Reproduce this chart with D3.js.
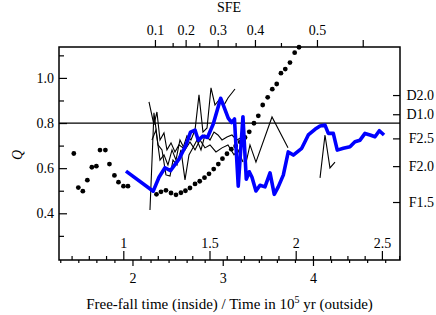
<!DOCTYPE html>
<html>
<head>
<meta charset="utf-8">
<script src="https://cdn.jsdelivr.net/npm/d3@7"></script>
<style>
  body { margin: 0; background: #fff; }
  svg text { font-family: "Liberation Serif", "Times New Roman", "DejaVu Serif", serif; font-size: 14px; fill: #000; }
</style>
</head>
<body>
<svg id="chart" width="436" height="315"></svg>
<script>
// dotted series (time in 1e5 yr, Q)
const dotTime = [1.35, 1.40, 1.45, 1.50, 1.55, 1.60, 1.64, 1.70, 1.745, 1.80, 1.845, 1.90, 1.95,
  2.266, 2.316, 2.371, 2.427, 2.482, 2.537, 2.587, 2.637, 2.693, 2.745, 2.798, 2.848, 2.900, 2.951,
  2.997, 3.047, 3.095, 3.143, 3.194, 3.247, 3.294, 3.346, 3.394, 3.443, 3.498, 3.549, 3.598, 3.645,
  3.693, 3.745, 3.797, 3.845];
const dotQ = [0.665, 0.514, 0.498, 0.547, 0.604, 0.609, 0.680, 0.680, 0.618, 0.568, 0.538, 0.520, 0.520,
  0.484, 0.495, 0.502, 0.490, 0.482, 0.491, 0.500, 0.512, 0.530, 0.542, 0.558, 0.575, 0.596, 0.618,
  0.642, 0.664, 0.684, 0.698, 0.716, 0.736, 0.761, 0.799, 0.832, 0.880, 0.914, 0.950, 0.973, 1.021,
  1.039, 1.068, 1.112, 1.136];

// blue series
const blueTime = [1.928, 2.230, 2.294, 2.360, 2.421, 2.515, 2.593, 2.643, 2.693, 2.729, 2.781, 2.831,
  2.895, 2.977, 3.061, 3.099, 3.130, 3.172, 3.224, 3.261, 3.294, 3.324, 3.368, 3.413, 3.468, 3.524,
  3.571, 3.615, 3.671, 3.726, 3.782, 3.875, 3.911, 3.948, 4.022, 4.078, 4.133, 4.170, 4.225, 4.269,
  4.336, 4.410, 4.465, 4.521, 4.576, 4.632, 4.687, 4.735, 4.787];
const blueQ = [0.587, 0.498, 0.560, 0.602, 0.589, 0.640, 0.702, 0.760, 0.769, 0.724, 0.742, 0.736,
  0.796, 0.910, 0.822, 0.802, 0.818, 0.520, 0.828, 0.551, 0.584, 0.560, 0.499, 0.524, 0.517, 0.579,
  0.484, 0.517, 0.569, 0.672, 0.658, 0.688, 0.717, 0.747, 0.772, 0.787, 0.791, 0.754, 0.754, 0.680,
  0.688, 0.695, 0.717, 0.724, 0.754, 0.747, 0.739, 0.766, 0.747];

// thin black runs
const run1Time = [2.183, 2.238, 2.271, 2.305, 2.349, 2.382, 2.427, 2.471, 2.515, 2.560, 2.604, 2.648,
  2.693, 2.737, 2.781, 2.826, 2.870, 2.914, 2.958, 3.014, 3.058, 3.136];
const run1Q = [0.894, 0.792, 0.849, 0.725, 0.756, 0.681, 0.712, 0.672, 0.703, 0.690, 0.743, 0.725,
  0.769, 0.925, 0.760, 0.778, 0.956, 0.880, 0.902, 0.880, 0.911, 0.951];
const run2Time = [2.194, 2.238, 2.283, 2.327, 2.371, 2.416, 2.449, 2.493, 2.537, 2.582, 2.626, 2.670,
  2.715, 2.759, 2.803, 2.859, 2.903, 2.947, 2.992, 3.047, 3.102, 3.158, 3.213, 3.258, 3.302, 3.368,
  3.546, 3.723];
const run2Q = [0.415, 0.845, 0.703, 0.681, 0.570, 0.565, 0.636, 0.614, 0.681, 0.548, 0.659, 0.690,
  0.725, 0.681, 0.747, 0.725, 0.760, 0.747, 0.725, 0.738, 0.747, 0.725, 0.738, 0.623, 0.703, 0.627,
  0.827, 0.690];
const run3Time = [2.216, 2.260, 2.305, 2.349, 2.393, 2.438, 2.482, 2.526, 2.582, 2.637, 2.693, 2.748,
  2.803, 2.859, 2.925, 2.992, 3.058, 3.125, 3.169, 3.224];
const run3Q = [0.725, 0.769, 0.636, 0.659, 0.614, 0.681, 0.636, 0.725, 0.681, 0.716, 0.681, 0.725,
  0.690, 0.703, 0.672, 0.690, 0.703, 0.659, 0.681, 0.627];
const run4Time = [4.078, 4.133, 4.188, 4.244];
const run4Q = [0.557, 0.747, 0.601, 0.627];

// axes
const qMajor = [0.4, 0.6, 0.8, 1.0];
const qMinor = [0.3, 0.5, 0.7, 0.9, 1.1];
const timeMajor = [2, 3, 4];
const timeMinor = [1.2, 1.4, 1.6, 1.8, 2.2, 2.4, 2.6, 2.8, 3.2, 3.4, 3.6, 3.8, 4.2, 4.4, 4.6, 4.8];
const ffMajor = [1, 1.5, 2, 2.5];
const ffMinor = [0.7, 0.8, 0.9, 1.1, 1.2, 1.3, 1.4, 1.6, 1.7, 1.8, 1.9, 2.1, 2.2, 2.3, 2.4, 2.6];
const sfeLabels = ["0.1", "0.2", "0.3", "0.4", "0.5", ""];
const sfeMajorTime = [2.249, 2.589, 2.944, 3.357, 4.044, 4.551];
const sfeMinorTime = [2.445, 2.740, 3.143, 3.645];
const rightLabels = ["D2.0", "D1.0", "F2.5", "F2.0", "F1.5"];
const rightQ = [0.924, 0.839, 0.732, 0.609, 0.450];
const refQ = 0.8;

const svg = d3.select("#chart");
const L = 59, R = 400, T = 47, B = 260;

const x = d3.scaleLinear().domain([1.186, 4.964]).range([L, R]);
const ff = d3.scaleLinear().domain([0.627, 2.605]).range([L, R]);
const y = d3.scaleLinear().domain([0.193, 1.137]).range([B, T]);

function clean(g) {
  g.attr("font-family", null).attr("font-size", null);
  g.select(".domain").remove();
  g.selectAll("line").attr("stroke", "#000").attr("stroke-width", 1.2);
  g.selectAll("text").attr("fill", "#000");
}

// left
svg.append("g").attr("transform", `translate(${L},0)`)
  .call(d3.axisLeft(y).tickValues(qMajor).tickFormat(d3.format(".1f")).tickSize(-8).tickPadding(5))
  .call(clean);
svg.append("g").attr("transform", `translate(${L},0)`)
  .call(d3.axisLeft(y).tickValues(qMinor).tickFormat("").tickSize(-5))
  .call(clean);

// bottom outside: time
svg.append("g").attr("transform", `translate(0,${B})`)
  .call(d3.axisBottom(x).tickValues(timeMajor).tickFormat(d => d).tickSize(6).tickPadding(7))
  .call(clean);
svg.append("g").attr("transform", `translate(0,${B})`)
  .call(d3.axisBottom(x).tickValues(timeMinor).tickFormat("").tickSize(3))
  .call(clean);

// bottom inside: free-fall
svg.append("g").attr("transform", `translate(0,${B})`)
  .call(d3.axisTop(ff).tickValues(ffMajor).tickFormat(d => d).tickSize(9).tickPadding(3))
  .call(clean);
svg.append("g").attr("transform", `translate(0,${B})`)
  .call(d3.axisTop(ff).tickValues(ffMinor).tickFormat("").tickSize(4))
  .call(clean);

// top: SFE
svg.append("g").attr("transform", `translate(0,${T})`)
  .call(d3.axisTop(x).tickValues(sfeMajorTime).tickFormat((d, i) => sfeLabels[i]).tickSize(7).tickPadding(5))
  .call(clean);
svg.append("g").attr("transform", `translate(0,${T})`)
  .call(d3.axisTop(x).tickValues(sfeMinorTime).tickFormat("").tickSize(4))
  .call(clean);

// right
const rg = svg.append("g").attr("transform", `translate(${R},0)`)
  .call(d3.axisRight(y).tickValues(rightQ).tickFormat((d, i) => rightLabels[i]).tickSize(-7))
  .call(clean);
rg.selectAll("text").attr("text-anchor", "end").attr("x", 34);

// frame
svg.append("rect").attr("x", L).attr("y", T).attr("width", R - L).attr("height", B - T)
  .attr("fill", "none").attr("stroke", "#000").attr("stroke-width", 1.5);

// reference line
svg.append("line").attr("x1", L).attr("x2", R).attr("y1", y(refQ)).attr("y2", y(refQ))
  .attr("stroke", "#000").attr("stroke-width", 1.3);

const line = d3.line().x(d => x(d[0])).y(d => y(d[1]));
const runs = [[run1Time, run1Q], [run2Time, run2Q], [run3Time, run3Q], [run4Time, run4Q]];
runs.forEach(([t, q]) => {
  svg.append("path").attr("d", line(d3.zip(t, q)))
    .attr("fill", "none").attr("stroke", "#000").attr("stroke-width", 1.1);
});

svg.append("g").selectAll("circle").data(d3.zip(dotTime, dotQ)).join("circle")
  .attr("cx", d => x(d[0])).attr("cy", d => y(d[1])).attr("r", 2.4).attr("fill", "#000");

svg.append("path").attr("d", line(d3.zip(blueTime, blueQ)))
  .attr("fill", "none").attr("stroke", "#0000ff").attr("stroke-width", 3.6)
  .attr("stroke-linejoin", "round");

// titles
svg.append("text").attr("x", 229).attr("y", 12).attr("text-anchor", "middle").text("SFE");
svg.append("text").attr("transform", "translate(22,155) rotate(-90)")
  .attr("text-anchor", "middle").attr("font-style", "italic").text("Q");
const xt = svg.append("text").attr("x", 229.5).attr("y", 309).attr("text-anchor", "middle")
  .style("font-size", "15px");
xt.append("tspan").text("Free-fall time (inside) / Time in 10");
xt.append("tspan").attr("dy", -6).style("font-size", "10px").text("5");
xt.append("tspan").attr("dy", 6).text(" yr (outside)");
</script>
</body>
</html>
